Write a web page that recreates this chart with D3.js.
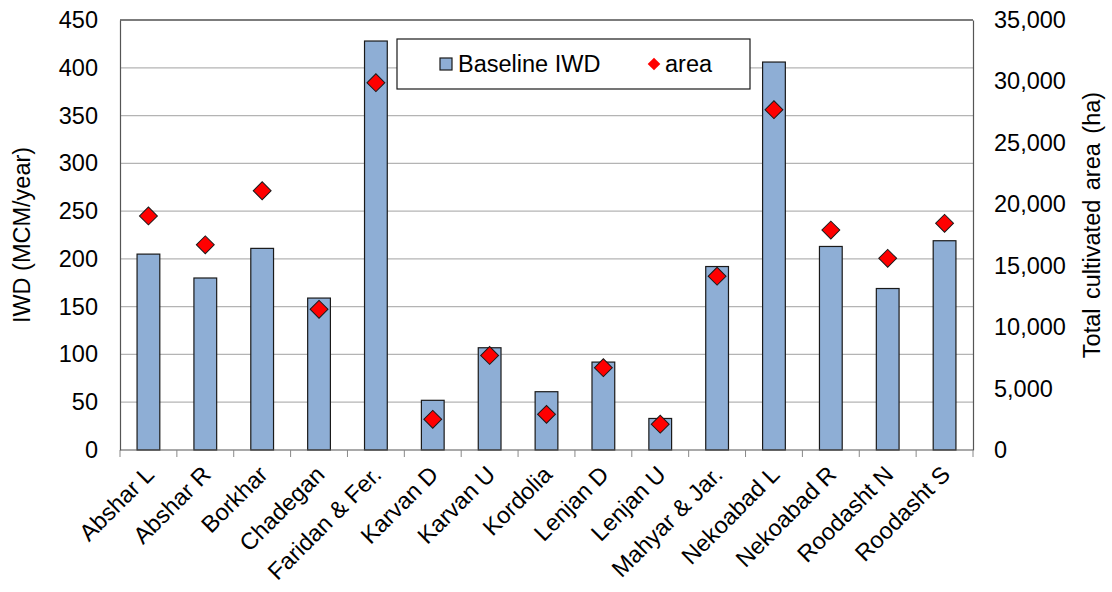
<!DOCTYPE html>
<html><head><meta charset="utf-8">
<script src="https://cdn.jsdelivr.net/npm/d3@7"></script>
<style>body{margin:0;background:#fff}svg{display:block}text{font-family:"Liberation Sans",Arial,sans-serif;fill:#000}</style>
</head><body><svg id="c" width="1112" height="592"></svg>
<script>
const categories = ["Abshar L","Abshar R","Borkhar","Chadegan","Faridan & Fer.","Karvan D","Karvan U","Kordolia","Lenjan D","Lenjan U","Mahyar & Jar.","Nekoabad L","Nekoabad R","Roodasht N","Roodasht S"];
const baselineIWD = [205,180,211,159,428,52,107,61,92,33,192,406,213,169,219];
const area = [19050,16700,21100,11450,29900,2500,7700,2900,6700,2100,14150,27700,17900,15600,18450];
const leftTicks = [0,50,100,150,200,250,300,350,400,450];
const rightTicks = [0,5000,10000,15000,20000,25000,30000,35000];

const FS = "23.5px";
const svg = d3.select("#c");
const L = 120, R = 973, T = 20, B = 450;
const x = d3.scaleBand().domain(categories).range([L, R]).paddingInner(0.6).paddingOuter(0.3);
const xb = d3.scaleBand().domain(categories).range([L, R]);
const y = d3.scaleLinear().domain([0, 450]).range([B, T]);
const y2 = d3.scaleLinear().domain([0, 35000]).range([B, T]);

// gridlines
svg.append("g").selectAll("line").data(leftTicks.slice(1)).join("line")
  .attr("x1", L).attr("x2", R).attr("y1", d => y(d)).attr("y2", d => y(d))
  .attr("stroke", "#b4b4b4").attr("stroke-width", 1.3);

// frame top
svg.append("line").attr("x1", L).attr("x2", R).attr("y1", T).attr("y2", T).attr("stroke", "#333").attr("stroke-width", 1.2);

// bars
svg.append("g").selectAll("rect").data(categories).join("rect")
  .attr("x", d => x(d)).attr("width", x.bandwidth())
  .attr("y", (d, i) => y(baselineIWD[i])).attr("height", (d, i) => B - y(baselineIWD[i]))
  .attr("fill", "#8eaed5").attr("stroke", "#1a1a1a").attr("stroke-width", 1.2);

// left axis
const gl = svg.append("g").attr("transform", `translate(${L},0)`)
  .call(d3.axisLeft(y).tickValues(leftTicks).tickSize(0).tickPadding(22));
gl.select(".domain").attr("stroke", "#555").attr("stroke-width", 1.2);
gl.selectAll("text").style("font-size", FS).style("font-family", "Liberation Sans, Arial, sans-serif");

// right axis
const gr = svg.append("g").attr("transform", `translate(${R},0)`)
  .call(d3.axisRight(y2).tickValues(rightTicks).tickSize(0).tickPadding(21).tickFormat(d3.format(",")));
gr.select(".domain").attr("stroke", "#555").attr("stroke-width", 1.2);
gr.selectAll("text").style("font-size", FS).style("font-family", "Liberation Sans, Arial, sans-serif");

// bottom axis
const gb = svg.append("g").attr("transform", `translate(0,${B})`);
gb.append("line").attr("x1", L).attr("x2", R).attr("stroke", "#555").attr("stroke-width", 1.2);
const bounds = categories.map(c => xb(c)).concat([R]);
gb.selectAll("line.t").data(bounds).join("line").attr("class", "t")
  .attr("x1", d => d).attr("x2", d => d).attr("y1", 0).attr("y2", 7).attr("stroke", "#888").attr("stroke-width", 1);
gb.selectAll("text").data(categories).join("text")
  .attr("text-anchor", "end")
  .attr("transform", d => `translate(${xb(d) + xb.bandwidth() / 2 + 7},${26}) rotate(-45)`)
  .style("font-size", FS).text(d => d);

// diamonds
const sym = d3.symbol().type(d3.symbolSquare).size(160);
svg.append("g").selectAll("path").data(categories).join("path")
  .attr("d", sym)
  .attr("transform", (d, i) => `translate(${xb(d) + xb.bandwidth() / 2},${y2(area[i])}) rotate(45)`)
  .attr("fill", "#ff0000").attr("stroke", "#1a1a1a").attr("stroke-width", 1);

// axis titles
svg.append("text").attr("transform", `translate(30,235) rotate(-90)`).attr("text-anchor", "middle")
  .style("font-size", FS).text("IWD (MCM/year)");
svg.append("text").attr("transform", `translate(1100,225) rotate(-90)`).attr("text-anchor", "middle")
  .style("font-size", FS).style("word-spacing", "3px").text("Total cultivated area (ha)");

// legend
const lg = svg.append("g");
lg.append("rect").attr("x", 397).attr("y", 39).attr("width", 353).attr("height", 50)
  .attr("fill", "#fff").attr("stroke", "#1a1a1a").attr("stroke-width", 1.2);
lg.append("rect").attr("x", 440).attr("y", 58).attr("width", 12).attr("height", 12)
  .attr("fill", "#8eaed5").attr("stroke", "#1a1a1a").attr("stroke-width", 1.2);
lg.append("text").attr("x", 458).attr("y", 72).style("font-size", FS).text("Baseline IWD");
lg.append("path").attr("d", d3.symbol().type(d3.symbolSquare).size(80))
  .attr("transform", "translate(654,64) rotate(45)").attr("fill", "#ff0000");
lg.append("text").attr("x", 665).attr("y", 72).style("font-size", FS).text("area");
</script></body></html>
